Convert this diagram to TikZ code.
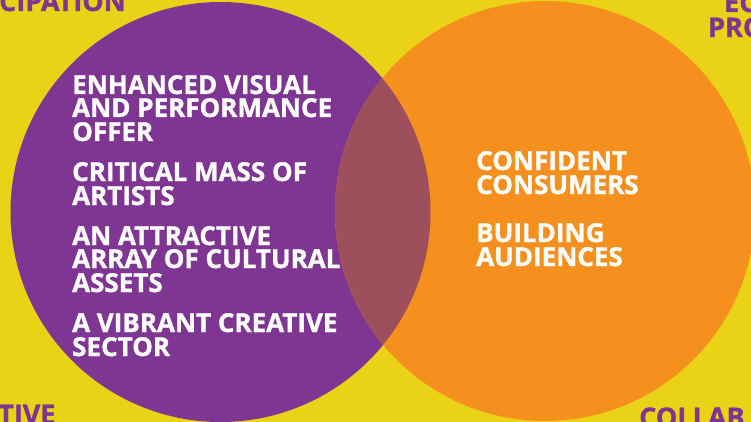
\documentclass[tikz,border=0pt]{standalone}
\usepackage{fontspec}
\setmainfont{Open Sans}[BoldFeatures={FakeBold=1.2}]
\definecolor{bgyellow}{RGB}{234,210,22}
\definecolor{vpurple}{RGB}{126,54,146}
\definecolor{vorange}{RGB}{245,143,30}
\definecolor{vmix}{RGB}{157,80,92}
\begin{document}
\begin{tikzpicture}[x=1pt,y=-1pt,
  wtxt/.style={anchor=base west,inner sep=0pt,text height=19pt,text depth=1pt,text=white,font=\fontsize{26}{26}\selectfont\bfseries},
  ptxt/.style={anchor=base west,inner sep=0pt,text height=19pt,text depth=1pt,text=vpurple,font=\fontsize{27}{27}\selectfont\bfseries}]
\useasboundingbox (0,0) rectangle (751,422);
\clip (0,0) rectangle (751,422);
\fill[bgyellow] (0,0) rectangle (751,422);
\fill[vpurple] (220.5,212) circle[radius=210];
\fill[vorange] (545,211) circle[radius=210];
\begin{scope}
  \clip (220.5,212) circle[radius=210];
  \fill[vmix] (545,211) circle[radius=210];
\end{scope}
% corner labels
\node[ptxt] (c1) at (-1,11) {CIPATION};
\node[ptxt] (c2) at (724,12) {EC};
\node[ptxt] (c3) at (708,37) {PRO};
\node[ptxt] (c4) at (-2,424) {TIVE};
\node[ptxt] (c5) at (639,427) {COLLAB};
% left texts
\node[wtxt] (l1) at (72,94) {ENHANCED VISUAL};
\node[wtxt] (l2) at (72,117) {AND PERFORMANCE};
\node[wtxt] (l3) at (72,141) {OFFER};
\node[wtxt] (l4) at (72,181) {CRITICAL MASS OF};
\node[wtxt] (l5) at (72,205) {ARTISTS};
\node[wtxt] (l6) at (72,245) {AN ATTRACTIVE};
\node[wtxt] (l7) at (72,268) {ARRAY OF CULTURAL};
\node[wtxt] (l8) at (72,292) {ASSETS};
\node[wtxt] (l9) at (72,332) {A VIBRANT CREATIVE};
\node[wtxt] (l10) at (72,356) {SECTOR};
% right texts
\node[wtxt] (r1) at (476,170) {CONFIDENT};
\node[wtxt] (r2) at (476,194) {CONSUMERS};
\node[wtxt] (r3) at (476,242) {BUILDING};
\node[wtxt] (r4) at (476,266) {AUDIENCES};
\end{tikzpicture}
\end{document}
